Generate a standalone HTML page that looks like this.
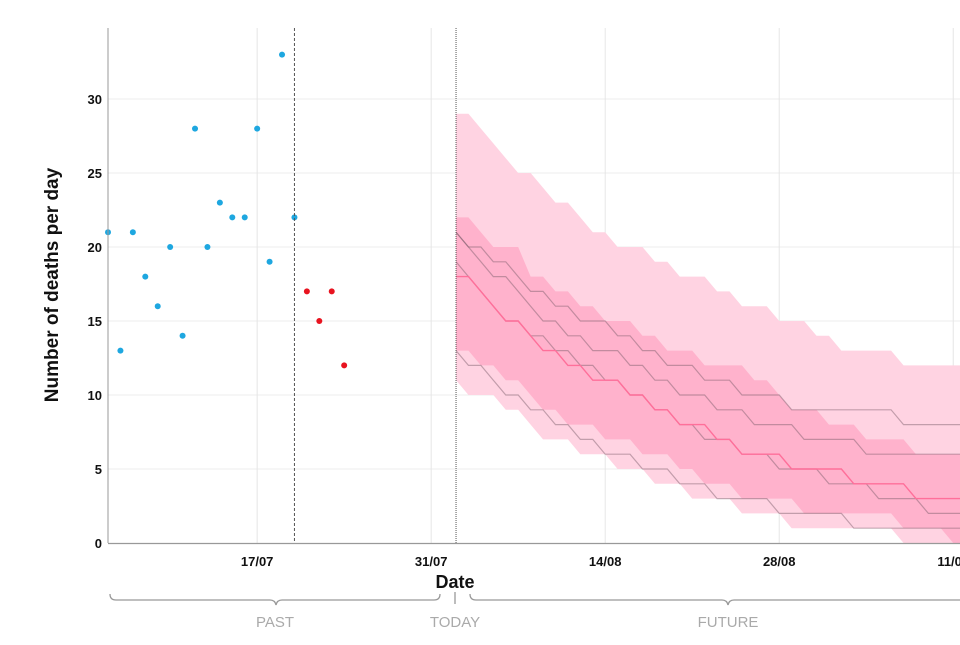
<!DOCTYPE html>
<html><head><meta charset="utf-8"><style>
body{margin:0;background:#fff;}
svg text{font-family:"Liberation Sans",sans-serif;}
</style></head><body>
<svg id="chart" width="960" height="640" viewBox="0 0 960 640" xmlns="http://www.w3.org/2000/svg">
<g id="grid"></g>
<g id="bands"></g>
<g id="lines"></g>
<g id="dots"></g>
<g id="axes"></g>
<text x="0" y="0" transform="translate(58,285) rotate(-90)" text-anchor="middle" font-size="19" font-weight="bold" fill="#111">Number of deaths per day</text>
<text x="455" y="588" text-anchor="middle" font-size="18" font-weight="bold" fill="#111">Date</text>
<g fill="none" stroke="#999" stroke-width="1.3">
<path d="M110 594 Q110 600 116 600 L270 600 Q275 600 276 605 Q277 600 282 600 L434 600 Q440 600 440 594"/>
<path d="M455 592 L455 604"/>
<path d="M470 594 Q470 600 476 600 L722 600 Q727 600 728 605 Q729 600 734 600 L962 600"/>
</g>
<text x="275" y="627" text-anchor="middle" font-size="15" fill="#aaa">PAST</text>
<text x="455" y="627" text-anchor="middle" font-size="15" fill="#aaa">TODAY</text>
<text x="728" y="627" text-anchor="middle" font-size="15" fill="#aaa">FUTURE</text>
</svg>
<script>
const observedDeaths=[21,13,21,18,16,20,14,28,20,23,22,22,28,19,33,22];
const recentDeaths=[17,15,17,12];
const upper95=[29,29,28,27,26,25,25,24,23,23,22,21,21,20,20,20,19,19,18,18,18,17,17,16,16,16,15,15,15,14,14,13,13,13,13,13,12,12,12,12,12,12];
const lower95=[11,10,10,10,9,9,8,7,7,7,6,6,6,5,5,5,4,4,4,3,3,3,3,2,2,2,2,1,1,1,1,1,1,1,1,1,0,0,0,0,0,0];
const upper50=[22,22,21,20,20,20,18,18,17,17,16,16,15,15,15,14,14,13,13,13,12,12,12,12,11,11,10,9,9,9,8,8,8,7,7,7,7,6,6,6,6,6];
const lower50=[13,13,12,12,11,11,10,9,9,8,8,8,7,7,7,6,6,6,5,5,4,4,4,3,3,3,3,3,2,2,2,2,2,2,2,2,1,1,1,1,0,0];
const median=[18,18,17,16,15,15,14,13,13,12,12,11,11,11,10,10,9,9,8,8,8,7,7,6,6,6,6,5,5,5,5,5,4,4,4,4,4,3,3,3,3,3];
const sample1=[21,20,20,19,19,18,17,17,16,16,15,15,15,14,14,13,13,12,12,12,11,11,11,10,10,10,10,9,9,9,9,9,9,9,9,9,8,8,8,8,8,8];
const sample2=[21,20,19,18,18,17,16,15,15,14,14,13,13,13,12,12,11,11,10,10,10,9,9,9,8,8,8,8,7,7,7,7,7,6,6,6,6,6,6,6,6,6];
const sample3=[19,18,17,16,15,15,14,14,13,13,12,12,11,11,10,10,9,9,8,8,7,7,7,6,6,6,5,5,5,5,4,4,4,4,3,3,3,3,2,2,2,2];
const sample4=[13,12,12,11,10,10,9,9,8,8,7,7,6,6,6,5,5,5,4,4,4,3,3,3,3,3,2,2,2,2,2,2,1,1,1,1,1,1,1,1,1,1];
const yTicks=[0,5,10,15,20,25,30];
const xTickLabels=["17/07","31/07","14/08","28/08","11/09"];
const xTickDays=[12,26,40,54,68];
const todayDay=28, cutoffDay=15;

const NS="http://www.w3.org/2000/svg";
const x=d=>108+d*12.43;
const y=v=>543-v*14.8;
function mk(tag,attrs,parent){const e=document.createElementNS(NS,tag);for(const k in attrs)e.setAttribute(k,attrs[k]);document.getElementById(parent).appendChild(e);return e;}
yTicks.forEach(v=>{if(v>0){const l=mk('line',{x1:108,x2:960,y1:y(v),y2:y(v),stroke:'#ececec','stroke-width':1},'grid');

}
const t=mk('text',{x:102,y:y(v)+5,'text-anchor':'end','font-size':13,'font-weight':'bold',fill:'#111'},'axes');t.textContent=v;

});
xTickDays.forEach((d,i)=>{const l=mk('line',{x1:x(d),x2:x(d),y1:28,y2:543,stroke:'#e6e6e6','stroke-width':1},'grid');


const t=mk('text',{x:x(d),y:566,'text-anchor':'middle','font-size':13,'font-weight':'bold',fill:'#111'},'axes');t.textContent=xTickLabels[i];

});
function band(up,lo,fill,name){let p='';up.forEach((v,i)=>{p+=(i?'L':'M')+x(todayDay+i)+' '+y(v)+' ';});
for(let i=lo.length-1;i>=0;i--)p+='L'+x(todayDay+i)+' '+y(lo[i])+' ';
const e=mk('path',{d:p+'Z',fill:fill},'bands');

}
band(upper95,lower95,'#ffd3e2','band-95');
band(upper50,lower50,'#ffb2cc','band-50');
function line(arr,stroke,w,name){const pts=arr.map((v,i)=>x(todayDay+i)+','+y(v)).join(' ');
const e=mk('polyline',{points:pts,fill:'none',stroke:stroke,'stroke-width':w},'lines');

}
[sample1,sample2,sample3,sample4].forEach((s,i)=>line(s,'rgba(120,90,105,0.45)',1.2,'sample-line-'+(i+1)));
line(median,'#ff6f9a',1.4,'median-line');
observedDeaths.forEach((v,i)=>{const c=mk('circle',{cx:x(i),cy:y(v),r:3,fill:'#1ea7e0'},'dots');

});
recentDeaths.forEach((v,i)=>{const c=mk('circle',{cx:x(cutoffDay+1+i),cy:y(v),r:3,fill:'#e8131f'},'dots');

});
let a=mk('line',{x1:108,x2:108,y1:28,y2:543,stroke:'#999','stroke-width':1},'axes');


a=mk('line',{x1:108,x2:960,y1:543.5,y2:543.5,stroke:'#999','stroke-width':1.3},'axes');


a=mk('line',{x1:x(cutoffDay),x2:x(cutoffDay),y1:28,y2:543,stroke:'#555','stroke-width':1,'stroke-dasharray':'3,2'},'axes');


a=mk('line',{x1:x(todayDay),x2:x(todayDay),y1:28,y2:543,stroke:'#555','stroke-width':1,'stroke-dasharray':'1,1'},'axes');


</script>
</body></html>
